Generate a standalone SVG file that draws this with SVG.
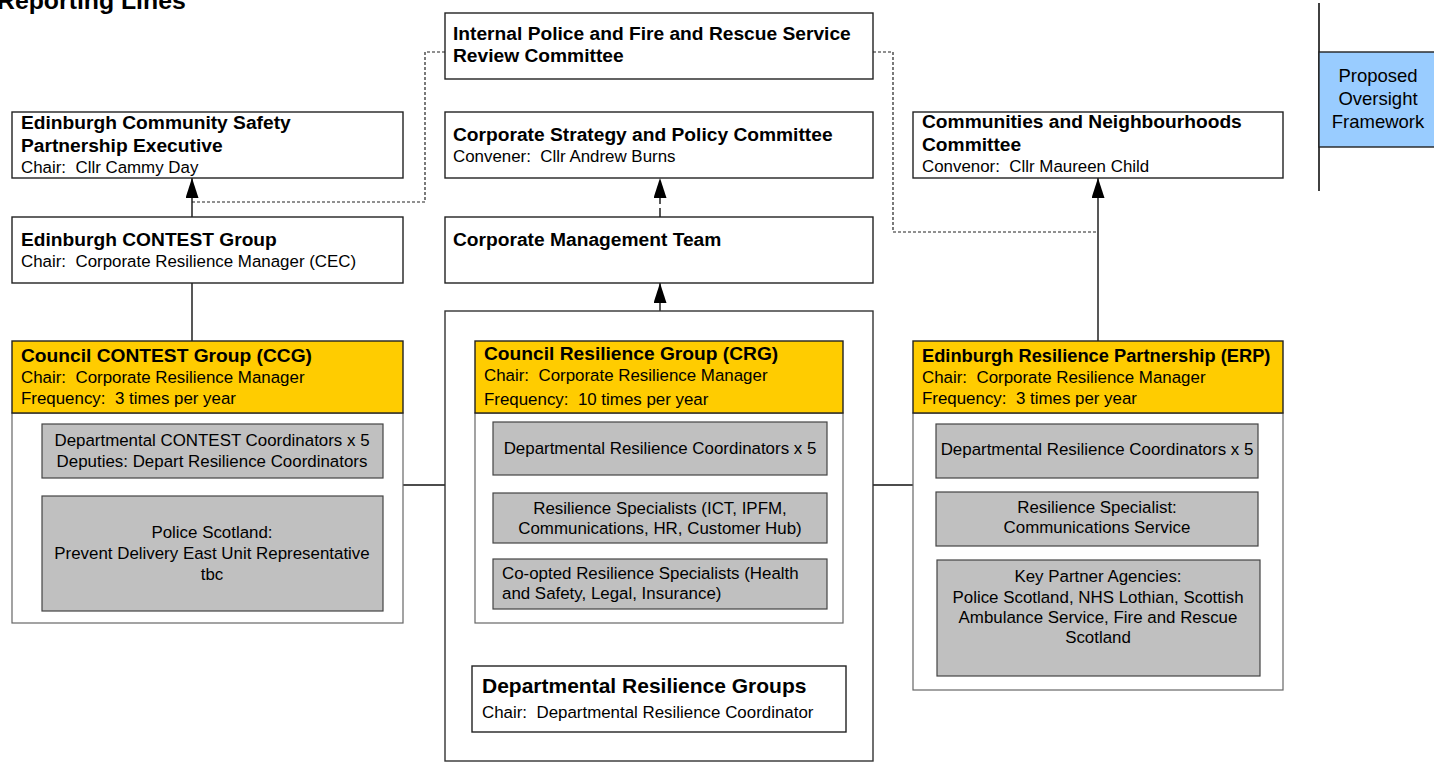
<svg xmlns="http://www.w3.org/2000/svg" width="1434" height="762" viewBox="0 0 1434 762" xml:space="preserve">
<defs>
<style>
text{font-family:"Liberation Sans",Arial,sans-serif;fill:#000;white-space:pre}
.h{font-size:19.2px;font-weight:bold}
.h2{font-size:21px;font-weight:bold}
.t{font-size:16.9px}
.c{text-anchor:middle}
.box{fill:#fff;stroke:#222;stroke-width:1.4}
.yel{fill:#FFCC00;stroke:#222;stroke-width:1.4}
.body{fill:#fff;stroke:#666;stroke-width:1.2}
.grey{fill:#C0C0C0;stroke:#444;stroke-width:1.2}
.ln{fill:none;stroke:#111;stroke-width:1.4}
.dash{fill:none;stroke:#222;stroke-width:1.2;stroke-dasharray:3 2}
</style>
<marker id="arr" markerUnits="userSpaceOnUse" markerWidth="20" markerHeight="13" refX="20" refY="6.5" orient="auto">
<path d="M0,0 L20,6.5 L0,13 z" fill="#000"/>
</marker>
</defs>
<rect width="1434" height="762" fill="#fff"/>
<text x="-3" y="9" style="font-size:24.8px;font-weight:bold">Reporting Lines</text>

<g id="connectors">
<polyline class="dash" points="445,52 425,52 425,202 192,202"/>
<polyline class="dash" points="873,52 893,52 893,232 1098,232"/>
<line class="ln" x1="192" y1="217" x2="192" y2="178" marker-end="url(#arr)"/>
<line class="ln" x1="192" y1="283" x2="192" y2="341"/>
<line class="ln" x1="660" y1="217" x2="660" y2="178" style="stroke-dasharray:9 4" marker-end="url(#arr)"/>
<line class="ln" x1="660" y1="311" x2="660" y2="283" marker-end="url(#arr)"/>
<line class="ln" x1="660" y1="666" x2="660" y2="623" marker-end="url(#arr)"/>
<line class="ln" x1="1098" y1="341" x2="1098" y2="178" marker-end="url(#arr)"/>
<line class="ln" x1="403" y1="485" x2="445" y2="485"/>
<line class="ln" x1="873" y1="485" x2="913" y2="485"/>
<line class="ln" x1="660" y1="475" x2="660" y2="493" style="stroke:#555"/>
<line class="ln" x1="1319" y1="3" x2="1319" y2="191" style="stroke-width:1.6"/>
</g>

<g id="internal-police">
<rect class="box" x="445" y="13" width="428" height="66"/>
<text class="h" x="453" y="40">Internal Police and Fire and Rescue Service</text>
<text class="h" x="453" y="62">Review Committee</text>
</g>

<g id="corporate-strategy">
<rect class="box" x="445" y="112" width="428" height="66"/>
<text class="h" x="453" y="141">Corporate Strategy and Policy Committee</text>
<text class="t" x="453" y="162">Convener:  Cllr Andrew Burns</text>
</g>

<g id="cmt">
<rect class="box" x="445" y="217" width="428" height="66"/>
<text class="h" x="453" y="246">Corporate Management Team</text>
</g>

<g id="ecspe">
<rect class="box" x="12" y="112" width="391" height="66"/>
<text class="h" x="21" y="129">Edinburgh Community Safety</text>
<text class="h" x="21" y="152">Partnership Executive</text>
<text class="t" x="21" y="173">Chair:  Cllr Cammy Day</text>
</g>

<g id="contest-group">
<rect class="box" x="12" y="217" width="391" height="66"/>
<text class="h" x="21" y="246">Edinburgh CONTEST Group</text>
<text class="t" x="21" y="267">Chair:  Corporate Resilience Manager (CEC)</text>
</g>

<g id="communities">
<rect class="box" x="913" y="112" width="370" height="66"/>
<text class="h" x="922" y="128">Communities and Neighbourhoods</text>
<text class="h" x="922" y="151">Committee</text>
<text class="t" x="922" y="172">Convenor:  Cllr Maureen Child</text>
</g>

<g id="proposed">
<rect x="1319" y="52" width="120" height="95" fill="#99CCFF" stroke="#222" stroke-width="1.4"/>
<text class="t c" x="1378" y="82" style="font-size:18.5px">Proposed</text>
<text class="t c" x="1378" y="105" style="font-size:18.5px">Oversight</text>
<text class="t c" x="1378" y="128" style="font-size:18.5px">Framework</text>
</g>

<g id="ccg">
<rect class="body" x="12" y="413" width="391" height="210"/>
<rect class="yel" x="12" y="341" width="391" height="72"/>
<text class="h" x="21" y="362">Council CONTEST Group (CCG)</text>
<text class="t" x="21" y="383">Chair:  Corporate Resilience Manager</text>
<text class="t" x="21" y="404">Frequency:  3 times per year</text>
<rect class="grey" x="42" y="424" width="341" height="54"/>
<text class="t c" x="212" y="446">Departmental CONTEST Coordinators x 5</text>
<text class="t c" x="212" y="467">Deputies: Depart Resilience Coordinators</text>
<rect class="grey" x="42" y="496" width="341" height="115"/>
<text class="t c" x="212" y="538">Police Scotland:</text>
<text class="t c" x="212" y="559">Prevent Delivery East Unit Representative</text>
<text class="t c" x="212" y="580">tbc</text>
</g>

<g id="crg-container">
<rect class="box" x="445" y="311" width="428" height="450" style="stroke:#333"/>
</g>

<g id="crg">
<rect class="body" x="475" y="413" width="368" height="210"/>
<rect class="yel" x="475" y="341" width="368" height="72"/>
<text class="h" x="484" y="360">Council Resilience Group (CRG)</text>
<text class="t" x="484" y="381">Chair:  Corporate Resilience Manager</text>
<text class="t" x="484" y="405">Frequency:  10 times per year</text>
<rect class="grey" x="493" y="422" width="334" height="53"/>
<text class="t c" x="660" y="454">Departmental Resilience Coordinators x 5</text>
<rect class="grey" x="493" y="493" width="334" height="50"/>
<text class="t c" x="660" y="514">Resilience Specialists (ICT, IPFM,</text>
<text class="t c" x="660" y="534">Communications, HR, Customer Hub)</text>
<rect class="grey" x="493" y="559" width="334" height="50"/>
<text class="t" x="502" y="579">Co-opted Resilience Specialists (Health</text>
<text class="t" x="502" y="599">and Safety, Legal, Insurance)</text>
</g>

<g id="drg">
<rect class="box" x="472" y="666" width="374" height="66"/>
<text class="h2" x="482" y="693">Departmental Resilience Groups</text>
<text class="t" x="482" y="718">Chair:  Departmental Resilience Coordinator</text>
</g>

<g id="erp">
<rect class="body" x="913" y="413" width="370" height="277"/>
<rect class="yel" x="913" y="341" width="370" height="72"/>
<text class="h" x="922" y="362" style="font-size:18.3px">Edinburgh Resilience Partnership (ERP)</text>
<text class="t" x="922" y="383">Chair:  Corporate Resilience Manager</text>
<text class="t" x="922" y="404">Frequency:  3 times per year</text>
<rect class="grey" x="936" y="424" width="322" height="54"/>
<text class="t c" x="1097" y="455">Departmental Resilience Coordinators x 5</text>
<rect class="grey" x="936" y="492" width="322" height="54"/>
<text class="t c" x="1097" y="513">Resilience Specialist:</text>
<text class="t c" x="1097" y="533">Communications Service</text>
<rect class="grey" x="937" y="560" width="323" height="116"/>
<text class="t c" x="1098" y="582">Key Partner Agencies:</text>
<text class="t c" x="1098" y="603">Police Scotland, NHS Lothian, Scottish</text>
<text class="t c" x="1098" y="623">Ambulance Service, Fire and Rescue</text>
<text class="t c" x="1098" y="643">Scotland</text>
</g>
</svg>
